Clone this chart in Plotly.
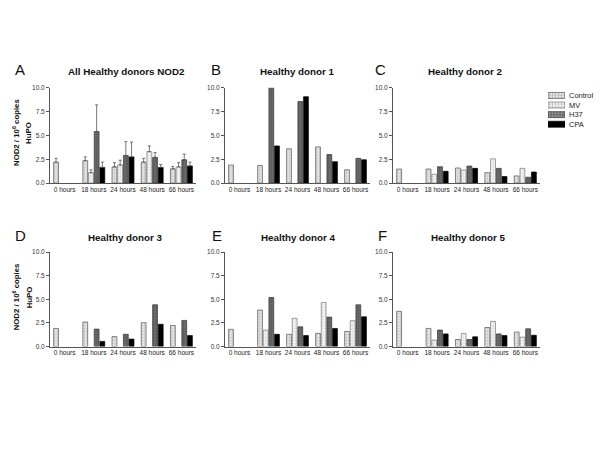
import plotly.graph_objects as go

# ---------------- data ----------------
hours = ["0 hours", "18 hours", "24 hours", "48 hours", "66 hours"]
series_names = ["Control", "MV", "H37", "CPA"]

panel_titles = ["All Healthy donors NOD2", "Healthy donor 1", "Healthy donor 2",
                "Healthy donor 3", "Healthy donor 4", "Healthy donor 5"]
panel_letters = ["A", "B", "C", "D", "E", "F"]

# All healthy donors (mean) and error (upper SEM)
all_control = [2.2, 2.35, 1.7, 2.2, 1.5]
all_mv = [None, 1.1, 1.9, 3.3, 1.7]
all_h37 = [None, 5.4, 2.9, 2.7, 2.45]
all_cpa = [None, 1.65, 2.75, 1.65, 1.8]
all_control_err = [0.4, 0.4, 0.45, 0.4, 0.25]
all_mv_err = [0, 0.3, 0.5, 0.6, 0.45]
all_h37_err = [0, 2.8, 1.45, 0.5, 0.6]
all_cpa_err = [0, 0.55, 1.55, 0.3, 0.4]

d1_control = [1.9, 1.85, 3.6, 3.8, 1.4]
d1_mv = [None, None, None, None, None]
d1_h37 = [None, 10.0, 8.55, 3.0, 2.6]
d1_cpa = [None, 3.9, 9.05, 2.25, 2.45]

d2_control = [1.48, 1.48, 1.59, 1.1, 0.76]
d2_mv = [None, 0.93, 1.38, 2.55, 1.55]
d2_h37 = [None, 1.72, 1.79, 1.55, 0.62]
d2_cpa = [None, 1.24, 1.55, 0.69, 1.17]

d3_control = [1.92, 2.6, 1.06, 2.53, 2.23]
d3_mv = [None, None, None, None, None]
d3_h37 = [None, 1.85, 1.3, 4.42, 2.77]
d3_cpa = [None, 0.55, 0.79, 2.36, 1.16]

d4_control = [1.82, 3.87, 1.3, 1.4, 1.6]
d4_mv = [None, 1.75, 3.0, 4.66, 2.74]
d4_h37 = [None, 5.2, 2.09, 3.12, 4.42]
d4_cpa = [None, 1.3, 1.16, 1.92, 3.15]

d5_control = [3.73, 1.92, 0.75, 2.02, 1.54]
d5_mv = [None, 0.68, 1.4, 2.67, 1.0]
d5_h37 = [None, 1.75, 0.75, 1.34, 1.88]
d5_cpa = [None, 1.34, 1.03, 1.16, 1.2]

y_ticks = [0, 2.5, 5.0, 7.5, 10.0]
y_tick_text = ["0.0", "2.5", "5.0", "7.5", "10.0"]

panels = [
    [all_control, all_mv, all_h37, all_cpa],
    [d1_control, d1_mv, d1_h37, d1_cpa],
    [d2_control, d2_mv, d2_h37, d2_cpa],
    [d3_control, d3_mv, d3_h37, d3_cpa],
    [d4_control, d4_mv, d4_h37, d4_cpa],
    [d5_control, d5_mv, d5_h37, d5_cpa],
]
panel_errors = [[all_control_err, all_mv_err, all_h37_err, all_cpa_err], None, None, None, None, None]

# ---------------- styles ----------------
styles = [
    dict(bg="#e4e4e4", fg="#8a8a8a", shape="+", line="#555555"),
    dict(bg="#f4f4f4", fg="#b0b0b0", shape="+", line="#777777"),
    dict(bg="#6a6a6a", fg="#3a3a3a", shape="+", line="#333333"),
    dict(bg="#000000", fg="#000000", shape="", line="#000000"),
]

W, H = 600, 450
col_px = [(50, 196), (225, 370), (393, 540)]
row_px = [(85, 182), (252, 348)]
FONT = "Liberation Sans, Arial, sans-serif"

fig = go.Figure()

for p in range(6):
    r, c = divmod(p, 3)
    ax = "" if p == 0 else str(p + 1)
    xref = "x" + ax
    yref = "y" + ax
    for s in range(4):
        st = styles[s]
        vals = panels[p][s]
        err = None
        if panel_errors[p] is not None:
            e = panel_errors[p][s]
            err = dict(type="data", array=e, arrayminus=[0] * len(e), symmetric=False,
                       color="#555555", thickness=0.8, width=1.5)
        fig.add_trace(go.Bar(
            x=list(range(len(hours))), y=vals, name=series_names[s],
            showlegend=False, xaxis=xref, yaxis=yref, offsetgroup=str(s),
            marker=dict(color=st["bg"], line=dict(color=st["line"], width=0.7),
                        pattern=dict(shape=st["shape"], fgcolor=st["fg"], bgcolor=st["bg"],
                                     size=3, solidity=0.25)),
            error_y=err,
        ))
    x0, x1 = col_px[c]
    y0, y1 = row_px[r]
    fig.layout["xaxis" + ax] = dict(
        domain=[x0 / W, x1 / W], anchor=yref, range=[-0.5, 4.5],
        tickvals=list(range(len(hours))), ticktext=hours, showline=True,
        linecolor="#555555", linewidth=1, ticks="", showgrid=False, zeroline=False,
        tickfont=dict(size=6.5, color="#222222", family=FONT),
    )
    fig.layout["yaxis" + ax] = dict(
        domain=[1 - y1 / H, 1 - y0 / H], anchor=xref, range=[0, 10],
        tickvals=y_ticks, ticktext=y_tick_text, showline=True, linecolor="#555555",
        linewidth=1, ticks="outside", ticklen=3, tickcolor="#555555", tickwidth=1,
        showgrid=False, zeroline=False,
        tickfont=dict(size=6.5, color="#333333", family=FONT),
    )

# ---------------- compact legend (swatches drawn as bars) ----------------
legend_len = [1] * len(series_names)
fig.add_trace(go.Bar(
    y=series_names, x=legend_len, orientation="h", width=0.62, showlegend=False,
    xaxis="x7", yaxis="y7", offsetgroup="legend", hoverinfo="skip",
    marker=dict(color=[st["bg"] for st in styles],
                line=dict(color=[st["line"] for st in styles], width=0.7),
                pattern=dict(shape=[st["shape"] for st in styles],
                             fgcolor=[st["fg"] for st in styles],
                             bgcolor=[st["bg"] for st in styles], size=3, solidity=0.25)),
))
fig.layout["xaxis7"] = dict(domain=[548 / W, 565 / W], anchor="y7", range=[0, 1], visible=False,
                            fixedrange=True)
fig.layout["yaxis7"] = dict(domain=[1 - 127 / H, 1 - 88 / H], anchor="x7",
                            range=[len(series_names) - 0.5, -0.5], visible=False,
                            categoryorder="array", categoryarray=series_names, fixedrange=True)

annotations = []
for name in series_names:
    annotations.append(dict(text=name, x=567 / W, xref="paper", y=name, yref="y7",
                            showarrow=False, xanchor="left", yanchor="middle",
                            font=dict(size=7.5, color="#222222", family=FONT)))

title_centers_x = [126, 297, 466, 125, 298, 468]
letter_x = [20, 216, 380, 20, 217, 382]
title_y = [69, 237]
letter_y = [67, 235]
for p in range(6):
    r, c = divmod(p, 3)
    annotations.append(dict(text="<b>" + panel_titles[p] + "</b>", x=title_centers_x[p] / W,
                            y=1 - title_y[r] / H, xref="paper", yref="paper", showarrow=False,
                            xanchor="center", yanchor="middle",
                            font=dict(size=9.8, color="#111111", family=FONT)))
    annotations.append(dict(text=panel_letters[p], x=letter_x[p] / W, y=1 - letter_y[r] / H,
                            xref="paper", yref="paper", showarrow=False,
                            xanchor="center", yanchor="middle",
                            font=dict(size=15, color="#111111", family=FONT)))

for r, yc in enumerate([131, 298]):
    annotations.append(dict(text="<b>NOD2 / 10<sup>6</sup> copies</b>", x=16 / W, y=1 - yc / H,
                            xref="paper", yref="paper", showarrow=False, textangle=-90,
                            xanchor="center", yanchor="middle",
                            font=dict(size=7.8, color="#111111", family=FONT)))
    annotations.append(dict(text="<b>HuPO</b>", x=29 / W, y=1 - yc / H,
                            xref="paper", yref="paper", showarrow=False, textangle=-90,
                            xanchor="center", yanchor="middle",
                            font=dict(size=7.8, color="#111111", family=FONT)))

fig.update_layout(
    width=W, height=H, margin=dict(l=0, r=0, t=0, b=0),
    paper_bgcolor="white", plot_bgcolor="white",
    barmode="group", bargap=0.22, bargroupgap=0.15,
    annotations=annotations,
    showlegend=False,
)

fig.write_html("out.html", config={"displayModeBar": False},
               post_script="document.body.style.margin='0';document.body.style.padding='0';")
